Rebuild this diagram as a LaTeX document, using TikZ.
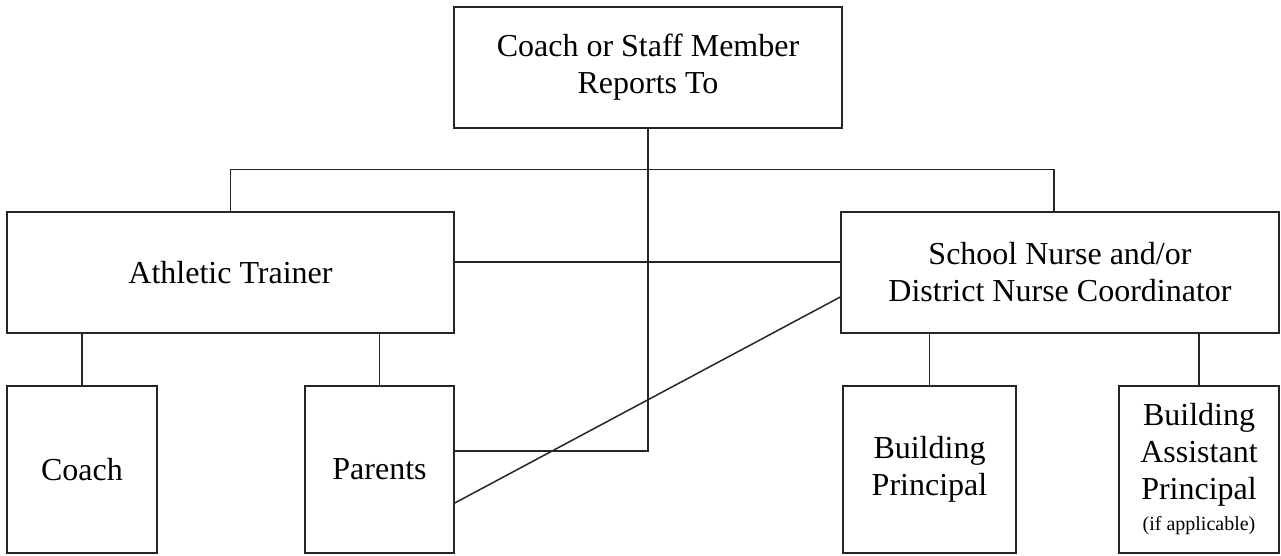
\documentclass[tikz,border=0pt]{standalone}
\usepackage{fontspec}
\setmainfont{Liberation Serif}
\tikzset{
  box/.style={draw=black!85, line width=1.5pt, rectangle, align=center, inner sep=0pt,
    font=\fontsize{32}{37}\selectfont},
  link/.style={draw=black!85, line width=1.5pt}
}
\begin{document}
\begin{tikzpicture}[x=1pt,y=-1pt]
\useasboundingbox (0,0) rectangle (1281,555);
\node[box, minimum width=388pt, minimum height=121pt] (top) at (648,67.5) {Coach or Staff Member\\Reports To};
\node[box, minimum width=447pt, minimum height=121pt] (at) at (230.5,272.5) {Athletic Trainer};
\node[box, minimum width=438pt, minimum height=121pt] (sn) at (1060,272.5) {School Nurse and/or\\District Nurse Coordinator};
\node[box, minimum width=150pt, minimum height=167pt] (coach) at (82,469.5) {Coach};
\node[box, minimum width=149pt, minimum height=167pt] (parents) at (379.5,469.5) {Parents};
\node[box, minimum width=173pt, minimum height=167pt] (bp) at (929.5,469.5) {Building\\Principal};
\node[box, minimum width=160pt, minimum height=167pt] (bap) at (1199,469.5) {Building\\Assistant\\Principal\\[-6pt]{\fontsize{20}{24}\selectfont (if applicable)}};
% connectors
\draw[link] (at.north) -- ++(0,-42) -| ([xshift=-6pt]sn.north);
\draw[link] (top.south) |- ([yshift=18.5pt]parents.east);
\draw[link] ([yshift=10.5pt]at.east) -- ([yshift=10.5pt]sn.west);
\draw[link] ([yshift=-24.5pt]sn.west) -- ([yshift=-33.5pt]parents.east);
\draw[link] (coach.north) -- (coach.north |- at.south);
\draw[link] (parents.north) -- (parents.north |- at.south);
\draw[link] (bp.north) -- (bp.north |- sn.south);
\draw[link] (bap.north) -- (bap.north |- sn.south);
\end{tikzpicture}
\end{document}
